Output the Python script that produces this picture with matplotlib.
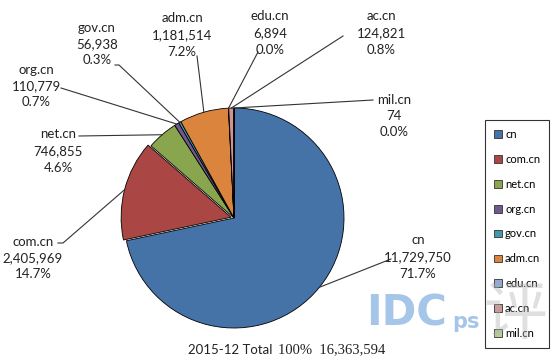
import numpy as np
import matplotlib
matplotlib.use("Agg")
import matplotlib.pyplot as plt
from matplotlib.patches import Patch

# data
names = ["cn", "com.cn", "net.cn", "org.cn", "gov.cn", "adm.cn", "edu.cn", "ac.cn", "mil.cn"]
counts = [11729750, 2405969, 746855, 110779, 56938, 1181514, 6894, 124821, 74]
pcts = ["71.7%", "14.7%", "4.6%", "0.7%", "0.3%", "7.2%", "0.0%", "0.8%", "0.0%"]
colors = ["#4572A7", "#AA4643", "#89A54E", "#71588F", "#4198AF",
          "#DB843D", "#93A9CF", "#D19392", "#B9CD96"]
total_text = "16,363,594"

W, H = 560, 364
fig = plt.figure(figsize=(W / 100, H / 100), dpi=100)
ax = fig.add_axes([0, 0, 1, 1])
ax.set_xlim(0, W)
ax.set_ylim(0, H)
ax.set_aspect("equal")
ax.axis("off")

cx, cy, r = 234, H - 218, 110
explode = [0, 3, 0, 0, 0, 0, 0, 0, 0]
wedges, _ = ax.pie(counts, colors=colors, startangle=90, counterclock=False,
                   center=(cx, cy), radius=r, explode=explode,
                   wedgeprops=dict(edgecolor="black", linewidth=0.6))
ax.set_xlim(0, W)
ax.set_ylim(0, H)

# label layout in image pixels: text centre (x, y of middle line), leader start
label_xy = {
    "cn": (418, 257), "com.cn": (33, 258), "net.cn": (58, 151),
    "org.cn": (36, 86), "gov.cn": (97, 44), "adm.cn": (182, 35),
    "edu.cn": (270, 33), "ac.cn": (381, 33), "mil.cn": (394, 116),
}
leader_from = {
    "cn": [(391, 259)], "com.cn": [(58, 243), (63, 243)],
    "net.cn": [(79, 136)], "org.cn": [(61, 88)],
    "gov.cn": [(115, 65), (119, 65)], "adm.cn": [(197, 56)],
    "edu.cn": [(258, 52)], "ac.cn": [(343, 36)], "mil.cn": [(373, 100)],
}

font = "Lato"
for w, name, cnt, p in zip(wedges, names, counts, pcts):
    tx, ty = label_xy[name]
    ax.text(tx, H - ty, f"{name}\n{cnt:,}\n{p}", ha="center", va="center",
            fontsize=9.5, family=font, color="#222222", linespacing=1.45)
    ang = np.deg2rad((w.theta1 + w.theta2) / 2)
    ex = w.center[0] + w.r * np.cos(ang)
    ey = w.center[1] + w.r * np.sin(ang)
    pts = [(x, H - y) for x, y in leader_from[name]] + [(ex, ey)]
    xs, ys = zip(*pts)
    ax.plot(xs, ys, color="#333333", linewidth=0.8)

# bottom caption
ax.text(276, H - 350, "2015-12 Total ", ha="right", va="center",
        fontsize=9.5, family=font, color="#222222")
ax.text(278, H - 350, "100%  " + total_text, ha="left", va="center",
        fontsize=10.5, family="Liberation Serif", color="#222222")

handles = [Patch(facecolor=c, edgecolor="#333333", linewidth=0.6) for c in colors]
leg = ax.legend(handles, names, loc="upper left",
                bbox_to_anchor=(485 / W, 1 - 120 / H), frameon=True,
                fancybox=False, edgecolor="black",
                prop={"family": font, "size": 8},
                handlelength=0.7, handleheight=0.7, handletextpad=0.3,
                labelspacing=1.25, borderpad=0.8, borderaxespad=0)
leg.get_frame().set_linewidth(0.8)

# watermark, drawn over the legend like the reference
ax.text(366, H - 313, "IDC", ha="left", va="center", fontsize=30,
        family="DejaVu Sans", weight="bold", color="#8fb8e3", alpha=0.8,
        zorder=10)
ax.text(452, H - 322, "ps", ha="left", va="center", fontsize=15,
        family="DejaVu Sans", weight="bold", color="#8fb8e3", alpha=0.8,
        zorder=10)
ax.text(515, H - 316, "评", ha="center", va="center", fontsize=46,
        family=["Noto Sans CJK SC", "DejaVu Sans"], color="#b0b0b0",
        alpha=0.4, zorder=10)

fig.savefig("out.png", dpi=100)
